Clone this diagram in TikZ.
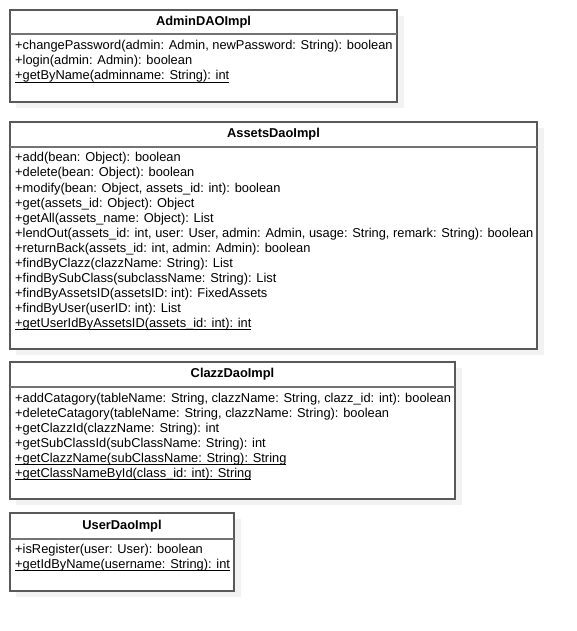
\documentclass[tikz,border=0pt]{standalone}
\usepackage{fontspec}
\setmainfont{Liberation Sans}
\newcommand\ulmember[1]{\setbox0\hbox{#1}\rlap{\vrule height -1.7pt depth 2.7pt width \wd0}\box0}
\tikzset{
  box/.style={draw=black!65, line width=1.1pt, fill=white},
  shadowbox/.style={fill=black!5, draw=none},
  sepline/.style={draw=black!55, line width=1.1pt},
  title/.style={font=\fontsize{12.85}{15}\selectfont\bfseries, inner sep=0pt},
  member/.style={font=\fontsize{12.85}{15}\selectfont, inner sep=0pt, anchor=base west},
}
\begin{document}
\begin{tikzpicture}[x=1pt,y=-1pt]
\useasboundingbox (0,0) rectangle (576,631);
\fill[white] (0,0) rectangle (576,631);
% ---------- AdminDAOImpl ----------
\fill[shadowbox] (16,16) rectangle (404,108);
\draw[box] (10,10) rectangle (397,102);
\draw[sepline] (10,34) -- (397,34);
\node[title] (t1) at (203.5,22) {AdminDAOImpl};
\node[member] (a1) at (15,50) {+changePassword(admin: Admin, newPassword: String): boolean};
\node[member] (a2) at (15,65) {+login(admin: Admin): boolean};
\node[member] (a3) at (15,80) {\ulmember{+getByName(adminname: String): int}};
% ---------- AssetsDaoImpl ----------
\fill[shadowbox] (16,128) rectangle (544,355);
\draw[box] (10,122) rectangle (537,349);
\draw[sepline] (10,147) -- (537,147);
\node[title] (t2) at (273.5,134.5) {AssetsDaoImpl};
\node[member] (b1) at (15,162) {+add(bean: Object): boolean};
\node[member] (b2) at (15,177) {+delete(bean: Object): boolean};
\node[member] (b3) at (15,192) {+modify(bean: Object, assets\_id: int): boolean};
\node[member] (b4) at (15,207) {+get(assets\_id: Object): Object};
\node[member] (b5) at (15,222) {+getAll(assets\_name: Object): List};
\node[member] (b6) at (15,237) {+lendOut(assets\_id: int, user: User, admin: Admin, usage: String, remark: String): boolean};
\node[member] (b7) at (15,252) {+returnBack(assets\_id: int, admin: Admin): boolean};
\node[member] (b8) at (15,267) {+findByClazz(clazzName: String): List};
\node[member] (b9) at (15,282) {+findBySubClass(subclassName: String): List};
\node[member] (b10) at (15,297) {+findByAssetsID(assetsID: int): FixedAssets};
\node[member] (b11) at (15,312) {+findByUser(userID: int): List};
\node[member] (b12) at (15,327) {\ulmember{+getUserIdByAssetsID(assets\_id: int): int}};
% ---------- ClazzDaoImpl ----------
\fill[shadowbox] (16,368) rectangle (462,505);
\draw[box] (10,362) rectangle (455,499);
\draw[sepline] (10,387) -- (455,387);
\node[title] (t3) at (232.5,374.5) {ClazzDaoImpl};
\node[member] (c1) at (15,402) {+addCatagory(tableName: String, clazzName: String, clazz\_id: int): boolean};
\node[member] (c2) at (15,417) {+deleteCatagory(tableName: String, clazzName: String): boolean};
\node[member] (c3) at (15,432) {+getClazzId(clazzName: String): int};
\node[member] (c4) at (15,447) {+getSubClassId(subClassName: String): int};
\node[member] (c5) at (15,462) {\ulmember{+getClazzName(subClassName: String): String}};
\node[member] (c6) at (15,477) {\ulmember{+getClassNameById(class\_id: int): String}};
% ---------- UserDaoImpl ----------
\fill[shadowbox] (16,519) rectangle (241,597);
\draw[box] (10,513) rectangle (234,591);
\draw[sepline] (10,539) -- (234,539);
\node[title] (t4) at (122,526) {UserDaoImpl};
\node[member] (d1) at (15,553) {+isRegister(user: User): boolean};
\node[member] (d2) at (15,568) {\ulmember{+getIdByName(username: String): int}};
\end{tikzpicture}
\end{document}
